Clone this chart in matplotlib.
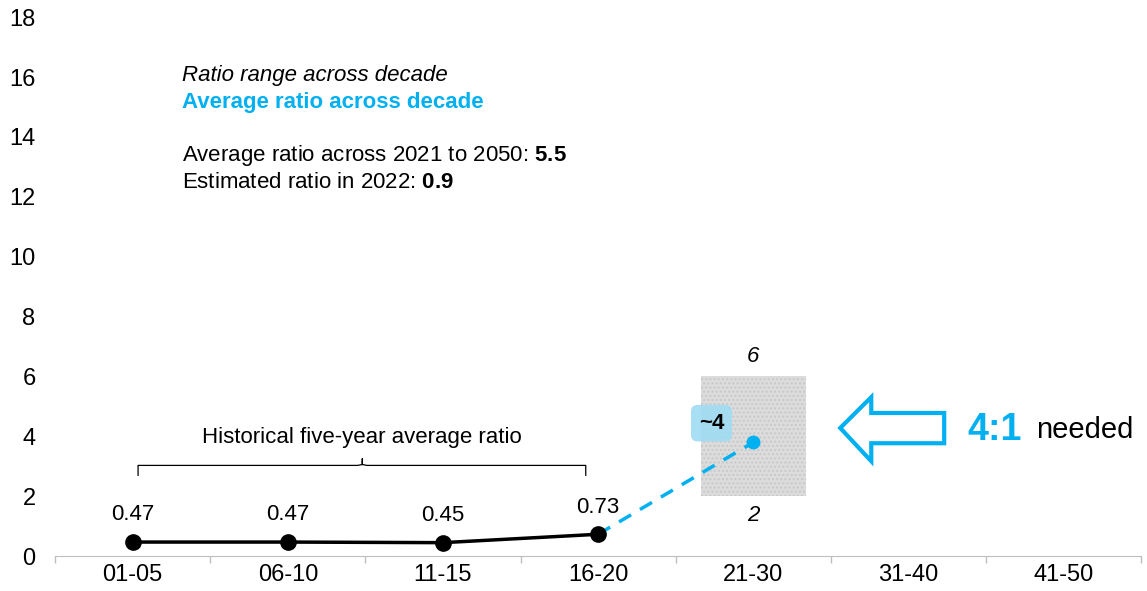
import matplotlib.pyplot as plt
from matplotlib.patches import Polygon, Rectangle

plt.rcParams['font.family'] = ['Liberation Sans', 'DejaVu Sans']
plt.rcParams['mathtext.fontset'] = 'custom'
plt.rcParams['mathtext.rm'] = 'Liberation Sans'
plt.rcParams['mathtext.bf'] = 'Liberation Sans:bold'

periods = ['01-05', '06-10', '11-15', '16-20', '21-30', '31-40', '41-50']
hist_ratio = [0.47, 0.47, 0.45, 0.73]
hist_labels = ['0.47', '0.47', '0.45', '0.73']
avg_2130 = 3.8
range_low, range_high = 2, 6

blue = '#00b0f0'
fs = 16
tick_fs = 17

fig = plt.figure(figsize=(11.47, 5.91), dpi=100)
ax = fig.add_axes([0.048, 0.059, 0.947, 0.912])

# historical five-year averages
x_hist = list(range(len(hist_ratio)))
ax.plot(x_hist, hist_ratio, color='black', lw=2.5, marker='o', ms=11, zorder=4)
for x, y, lab in zip(x_hist, hist_ratio, hist_labels):
    ax.annotate(lab, (x, y), xytext=(0, 12), textcoords='offset points',
                ha='center', va='bottom', fontsize=fs)

# projected decade average with range box
ax.add_patch(Rectangle((4 - 0.34, range_low), 0.68, range_high - range_low,
                       facecolor='#dcdcdc', edgecolor='#c8c8c8', lw=0, hatch='....',
                       zorder=1))
ax.plot([3, 4], [hist_ratio[-1], avg_2130], color=blue, lw=2.5, ls=(0, (4, 3)), zorder=3)
ax.plot(4, avg_2130, marker='o', ms=9, color=blue, zorder=4)
ax.text(4, range_high + 0.3, str(range_high), ha='center', va='bottom', fontsize=fs, style='italic')
ax.text(4, range_low - 0.3, str(range_low), ha='center', va='top', fontsize=fs, style='italic')
ax.text(3.73, 4.44, '~4', ha='center', va='center', fontsize=fs, fontweight='bold',
        bbox=dict(boxstyle='round,pad=0.35,rounding_size=0.3', facecolor='#9fdcf3',
                  edgecolor='none', alpha=0.9), zorder=5)

# hollow arrow pointing at the range
arrow = [(4.56, 4.28), (4.76, 5.31), (4.76, 4.78), (5.23, 4.78),
         (5.23, 3.77), (4.76, 3.77), (4.76, 3.17)]
ax.add_patch(Polygon(arrow, closed=True, facecolor='none', edgecolor=blue, lw=3, zorder=5))
ax.text(5.38, 4.22, '4:1', ha='left', va='center', fontsize=27, fontweight='bold', color=blue)
ax.text(5.82, 4.22, 'needed', ha='left', va='center', fontsize=21)

# brace over the historical points
bx0, bx1, bxm = 0.035, 2.92, 1.48
by0, by1, bym = 2.7, 3.03, 3.25
ax.plot([bx0, bx0, bxm - 0.03, bxm, bxm, bxm, bxm + 0.03, bx1, bx1],
        [by0, by1, by1, by1 + 0.03, bym, by1 + 0.03, by1, by1, by0],
        color='black', lw=0.9)
ax.text(bxm, 3.97, 'Historical five-year average ratio', ha='center', va='center', fontsize=fs)

# legend-like notes
ax.text(0.32, 16.06, 'Ratio range across decade', fontsize=fs, style='italic', va='center')
ax.text(0.32, 15.14, 'Average ratio across decade', fontsize=fs, fontweight='bold',
        color=blue, va='center')
ax.text(0.32, 13.37, 'Average ratio across 2021 to 2050: $\\mathbf{5.5}$', fontsize=fs, va='center')
ax.text(0.32, 12.47, 'Estimated ratio in 2022: $\\mathbf{0.9}$', fontsize=fs, va='center')

ax.set_xlim(-0.5, 6.5)
ax.set_ylim(0, 18)
ax.set_xticks(range(len(periods)))
ax.set_xticklabels(periods, fontsize=tick_fs)
ax.set_xticks([i - 0.5 for i in range(len(periods) + 1)], minor=True)
ax.set_yticks(range(0, 19, 2))
ax.tick_params(axis='y', length=0, pad=14, labelsize=tick_fs)
ax.tick_params(axis='x', which='major', length=0, pad=6)
ax.tick_params(axis='x', which='minor', length=5, color='#bfbfbf', width=1)
for side in ['top', 'right', 'left']:
    ax.spines[side].set_visible(False)
ax.spines['bottom'].set_color('#bfbfbf')

fig.savefig('out.png', dpi=100)
